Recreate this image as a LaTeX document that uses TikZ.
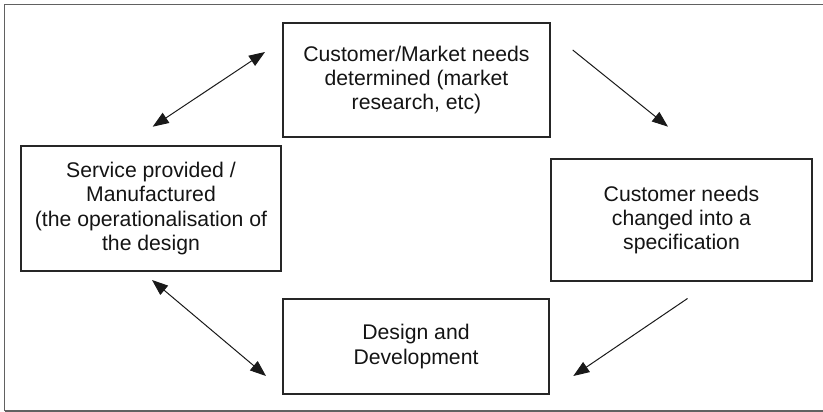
\documentclass[tikz,border=0pt]{standalone}
\usepackage{fontspec}
\setmainfont{Liberation Sans}
\usetikzlibrary{arrows.meta}
\begin{document}
\begin{tikzpicture}[x=1pt,y=-1pt,
  stagebox/.style={draw=black!85,line width=1.1pt,rectangle,align=center,inner sep=0pt,
    font=\fontsize{21.2}{24.3}\selectfont,text=black!92},
  flow/.style={draw=black!90,line width=1pt,-{Triangle[length=16pt,width=12pt]}},
  twoway/.style={draw=black!90,line width=1pt,{Triangle[length=16pt,width=12pt]}-{Triangle[length=16pt,width=12pt]}}]
\useasboundingbox (0,0) rectangle (823,412);
\draw[draw=black!62,line width=1.4pt] (4.5,411) -- (4.5,4.5) -- (830,4.5);
\draw[draw=black!62,line width=1.4pt] (4.5,411) -- (830,411);
\node[stagebox,minimum width=267pt,minimum height=114pt] (top) at (416.5,80)
  {Customer/Market needs\\determined (market\\research, etc)};
\node[stagebox,minimum width=260pt,minimum height=125pt] (left) at (151,208.5)
  {Service provided /\\Manufactured\\(the operationalisation of\\the design};
\node[stagebox,minimum width=261pt,minimum height=122pt] (right) at (681.5,220)
  {Customer needs\\changed into a\\specification};
\node[stagebox,minimum width=266pt,minimum height=95pt] (bottom) at (416,346.5)
  {Design and\\Development};
\coordinate (a1s) at (265,52);
\coordinate (a1e) at (152.7,126.7);
\coordinate (a2s) at (572.7,50);
\coordinate (a2e) at (668,126.7);
\coordinate (a3s) at (687.5,298.5);
\coordinate (a3e) at (573.3,376);
\coordinate (a4s) at (152,280);
\coordinate (a4e) at (266,376);
\draw[twoway] (a1s) -- (a1e);
\draw[flow] (a2s) -- (a2e);
\draw[flow] (a3s) -- (a3e);
\draw[twoway] (a4s) -- (a4e);
\end{tikzpicture}
\end{document}
